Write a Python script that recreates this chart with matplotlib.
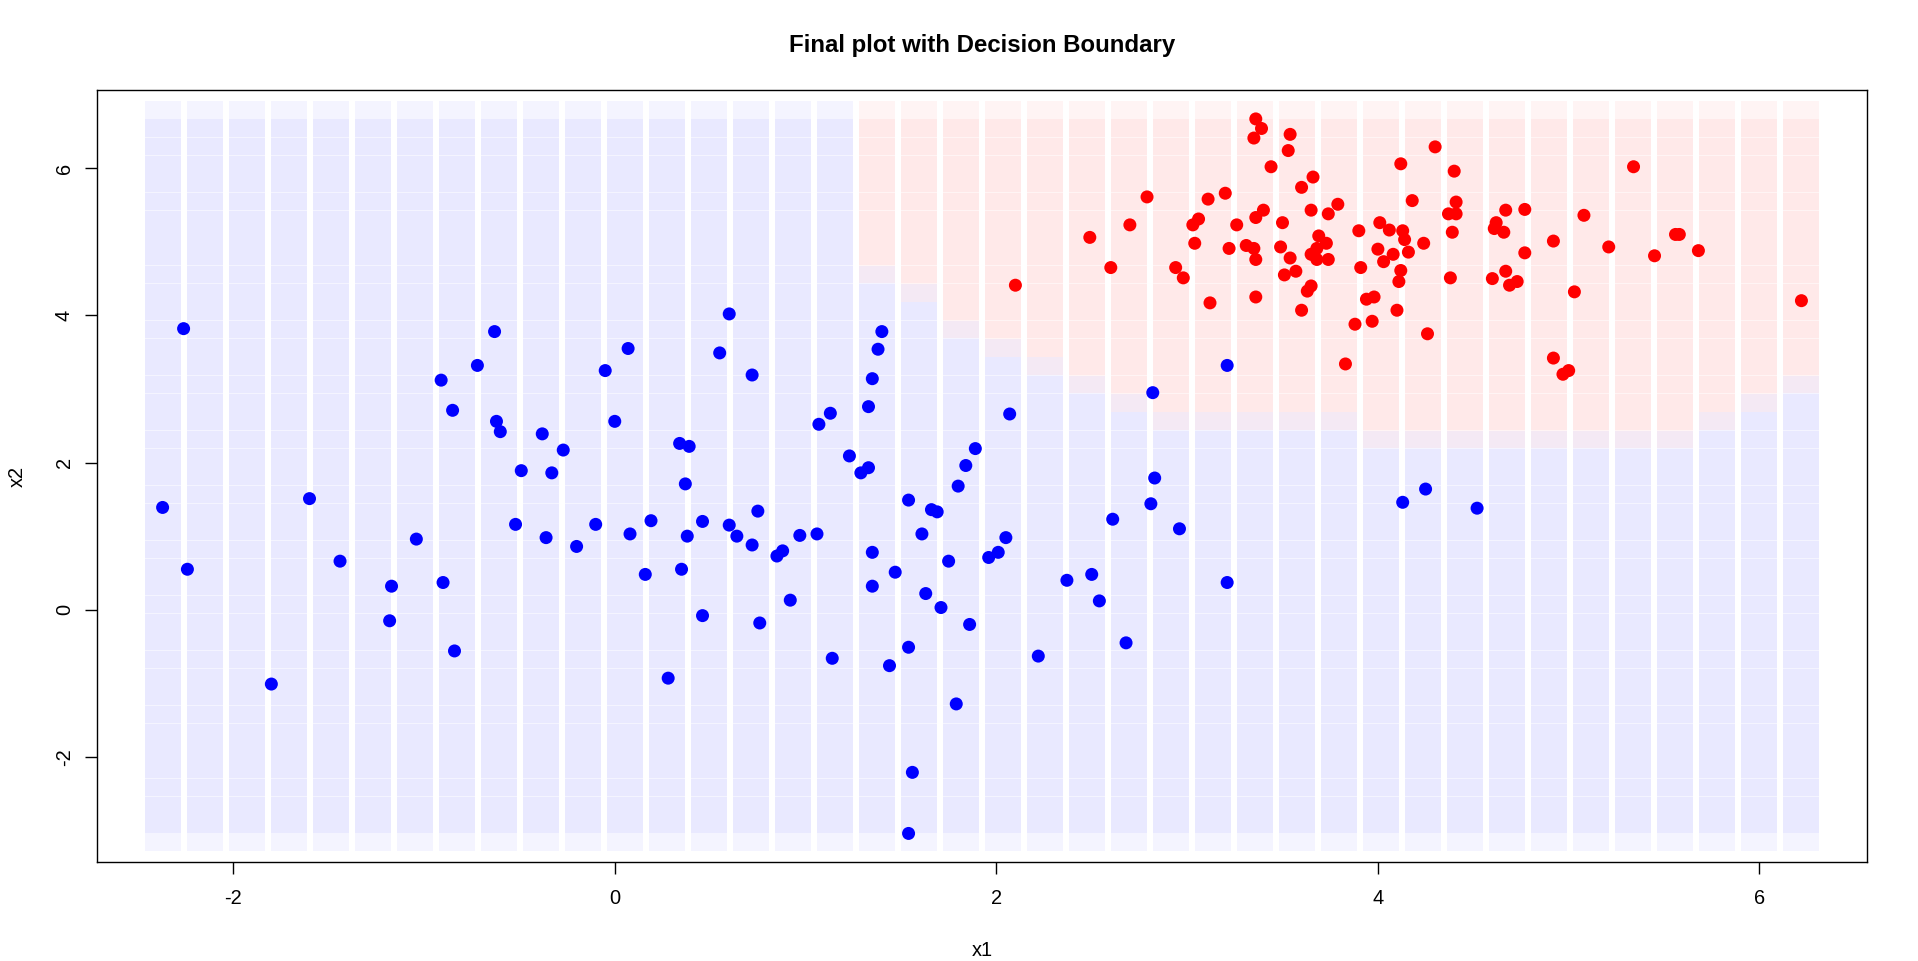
import numpy as np
import matplotlib
matplotlib.use("Agg")
import matplotlib.pyplot as plt

plt.rcParams['font.family'] = ['Liberation Sans', 'DejaVu Sans']
plt.rcParams['axes.unicode_minus'] = False

# class 1 (blue) points
blue_x1 = [-2.37, -2.26, -2.24, -1.80, -1.60, -1.44, -1.17, -1.18, -1.04, -0.91,
           -0.90, -0.85, -0.84, -0.72, -0.63, -0.62, -0.60, -0.49, -0.52, -0.38,
           -0.36, -0.33, -0.27, -0.20, -0.10, -0.05, 0.00, 0.07, 0.08, 0.16,
           0.19, 0.28, 0.34, 0.35, 0.39, 0.37, 0.38, 0.46, 0.46, 0.55,
           0.60, 0.60, 0.64, 0.72, 0.72, 0.75, 0.76, 0.85, 0.88, 0.92,
           0.97, 1.06, 1.07, 1.13, 1.14, 1.23, 1.29, 1.33, 1.33, 1.35,
           1.35, 1.35, 1.38, 1.40, 1.44, 1.47, 1.54, 1.54, 1.56, 1.54,
           1.61, 1.63, 1.66, 1.69, 1.71, 1.75, 1.79, 1.80, 1.84, 1.86,
           1.89, 1.96, 2.01, 2.05, 2.07, 2.22, 2.37, 2.50, 2.54, 2.61,
           2.68, 2.81, 2.82, 2.83, 2.96, 3.21, 3.21, 4.13, 4.25, 4.52]
blue_x2 = [1.39, 3.82, 0.55, -1.01, 1.51, 0.66, 0.32, -0.15, 0.96, 3.12,
           0.37, 2.71, -0.56, 3.32, 3.78, 2.56, 2.42, 1.89, 1.16, 2.39,
           0.98, 1.86, 2.17, 0.86, 1.16, 3.25, 2.56, 3.55, 1.03, 0.48,
           1.21, -0.93, 2.26, 0.55, 2.22, 1.71, 1.00, 1.20, -0.08, 3.49,
           4.02, 1.15, 1.00, 3.19, 0.88, 1.34, -0.18, 0.73, 0.80, 0.13,
           1.01, 1.03, 2.52, 2.67, -0.66, 2.09, 1.86, 1.93, 2.76, 3.14,
           0.78, 0.32, 3.54, 3.78, -0.76, 0.51, 1.49, -0.51, -2.21, -3.04,
           1.03, 0.22, 1.36, 1.33, 0.03, 0.66, -1.28, 1.68, 1.96, -0.20,
           2.19, 0.71, 0.78, 0.98, 2.66, -0.63, 0.40, 0.48, 0.12, 1.23,
           -0.45, 1.44, 2.95, 1.79, 1.10, 3.32, 0.37, 1.46, 1.64, 1.38]

# class 2 (red) points
red_x1 = [2.10, 2.49, 2.60, 2.70, 2.79, 2.94, 2.98, 3.03, 3.06, 3.04,
          3.11, 3.12, 3.20, 3.22, 3.26, 3.31, 3.35, 3.35, 3.36, 3.39,
          3.36, 3.36, 3.36, 3.40, 3.44, 3.49, 3.50, 3.51, 3.53, 3.54,
          3.54, 3.57, 3.60, 3.60, 3.63, 3.65, 3.66, 3.65, 3.65, 3.68,
          3.68, 3.69, 3.73, 3.74, 3.74, 3.79, 3.83, 3.88, 3.90, 3.91,
          3.94, 3.97, 3.98, 4.01, 4.00, 4.03, 4.06, 4.08, 4.10, 4.11,
          4.12, 4.13, 4.12, 4.14, 4.16, 4.18, 4.24, 4.26, 4.30, 4.37,
          4.40, 4.38, 4.39, 4.41, 4.41, 4.60, 4.61, 4.62, 4.66, 4.67,
          4.67, 4.69, 4.73, 4.77, 4.77, 4.92, 4.92, 4.97, 5.00, 5.03,
          5.08, 5.21, 5.34, 5.45, 5.56, 5.58, 5.68, 6.22]
red_x2 = [4.41, 5.06, 4.65, 5.23, 5.61, 4.65, 4.51, 5.23, 5.31, 4.98,
          5.58, 4.17, 5.66, 4.91, 5.23, 4.95, 4.91, 6.41, 6.67, 6.54,
          5.33, 4.76, 4.25, 5.43, 6.02, 4.93, 5.26, 4.55, 6.24, 6.46,
          4.78, 4.60, 5.74, 4.07, 4.33, 4.83, 5.88, 4.40, 5.43, 4.76,
          4.91, 5.08, 4.98, 5.38, 4.76, 5.51, 3.34, 3.88, 5.15, 4.65,
          4.22, 3.92, 4.25, 5.26, 4.90, 4.73, 5.16, 4.83, 4.07, 4.46,
          6.06, 5.15, 4.61, 5.03, 4.86, 5.56, 4.98, 3.75, 6.29, 5.38,
          5.96, 4.51, 5.13, 5.54, 5.38, 4.50, 5.18, 5.26, 5.13, 5.43,
          4.60, 4.41, 4.46, 5.44, 4.85, 5.01, 3.42, 3.20, 3.25, 4.32,
          5.36, 4.93, 6.02, 4.81, 5.10, 5.10, 4.88, 4.20]

# predicted class on the 40 x 40 grid: number of red rows (from the top) per column
n_grid = 40
red_rows = [0] * 17 + [9, 10, 12, 13, 14, 15, 16, 17, 17, 17, 17, 17,
                       18, 18, 18, 18, 18, 18, 18, 18, 17, 16, 15]

x_all = np.array(blue_x1 + red_x1)
y_all = np.array(blue_x2 + red_x2)
gx = np.linspace(x_all.min(), x_all.max(), n_grid)
gy = np.linspace(y_all.max(), y_all.min(), n_grid)  # top row first

grid_x, grid_y, grid_c = [], [], []
for i in range(n_grid):
    for j in range(n_grid):
        grid_x.append(gx[i])
        grid_y.append(gy[j])
        grid_c.append((1, 0, 0, 0.045) if j < red_rows[i] else (0, 0, 1, 0.045))

fig = plt.figure(figsize=(19.18, 9.61), dpi=100)
ax = fig.add_axes([0.0506, 0.103, 0.9228, 0.803])

side_pt = 36 * 72 / 100.0
ax.scatter(grid_x, grid_y, s=side_pt ** 2, marker='s', c=grid_c,
           edgecolors='none', zorder=1)

dot = (13 * 72 / 100.0) ** 2
ax.scatter(blue_x1, blue_x2, s=dot, c='#0000FF', edgecolors='none', zorder=3)
ax.scatter(red_x1, red_x2, s=dot, c='#FF0000', edgecolors='none', zorder=3)

xr = x_all.max() - x_all.min()
yr = y_all.max() - y_all.min()
ax.set_xlim(x_all.min() - 0.04 * xr, x_all.max() + 0.04 * xr)
ax.set_ylim(y_all.min() - 0.04 * yr, y_all.max() + 0.04 * yr)

ax.set_xticks([-2, 0, 2, 4, 6])
ax.set_yticks([-2, 0, 2, 4, 6])
ax.tick_params(axis='both', direction='out', length=8.6, width=1.0,
               labelsize=14.4)
ax.tick_params(axis='x', pad=11)
ax.tick_params(axis='y', pad=8)
for lab in ax.get_yticklabels():
    lab.set_rotation(90)
    lab.set_va('center')
for sp in ax.spines.values():
    sp.set_linewidth(1.0)
    sp.set_color('black')

ax.set_xlabel('x1', fontsize=14.4)
ax.set_ylabel('x2', fontsize=14.4)
ax.xaxis.set_label_coords(0.5, -0.102)
ax.yaxis.set_label_coords(-0.0396, 0.5)
ax.set_title('Final plot with Decision Boundary', fontsize=17.3,
             fontweight='bold', y=1.0467, va='center')

fig.savefig('out.png', dpi=100)
